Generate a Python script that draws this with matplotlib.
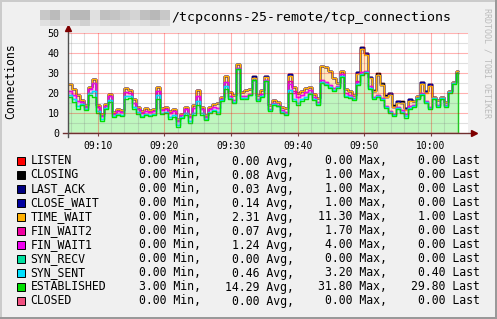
import numpy as np
import matplotlib
matplotlib.use('Agg')
import matplotlib.pyplot as plt
from matplotlib.patches import Rectangle

# Amostras (minutos depois das 09:00), uma a cada 36 s
t_start = 5.55
t_step = 0.6
t_end = 64.1

established = [18, 15.5, 12, 14, 11.5, 19, 18, 10, 6, 12,
               15.5, 8, 9, 8.5, 17, 17.5, 12, 9.5, 8, 9,
               8.5, 9, 17, 9.5, 10, 7, 8, 3, 7.5, 9,
               5, 9, 14, 9, 6.5, 10, 11, 9.5, 16, 22,
               17, 15, 31.8, 17, 17, 19, 26.5, 16, 18, 26,
               11, 14, 13.5, 10, 9, 20, 16, 14, 16, 17,
               19.5, 16.5, 14, 25, 24, 22.5, 21, 22.5, 28, 18,
               17.5, 16.5, 24, 29, 30, 22, 17, 18, 16.5, 12.5,
               10, 8.5, 12, 10, 7.5, 12, 13, 17, 19, 15,
               12, 17, 13, 17, 13, 20, 24.5, 29.8]
syn_sent = [1, 1.5, 1.5, 0.5, 0.5, 1, 3.2, 1, 1, 0.5,
            1, 0.5, 0.5, 0.5, 1.5, 1, 1, 1, 0.5, 0.5,
            0.5, 0.5, 2, 0.5, 0.5, 1, 1, 1, 0.5, 1,
            1, 1, 2, 1, 0.5, 0.5, 0.5, 1, 0.5, 1.5,
            0.5, 0.5, 0, 0.5, 0.5, 0, 0, 0.5, 0.5, 0,
            0.5, 0.5, 0, 0.5, 0.5, 1.5, 1, 1, 1, 1,
            0.5, 0.5, 0.5, 0.5, 0.5, 0.5, 0.5, 0.5, 0.5, 0.5,
            0.5, 0.5, 0.5, 0.7, 0.5, 0.5, 0.5, 0.5, 0.5, 0.5,
            0.5, 0.5, 0.5, 0.5, 1, 0.5, 0.5, 0.5, 0.5, 0.5,
            0.5, 0.5, 0.5, 0.5, 0.5, 0.5, 0.5, 0.4]
fin_wait1 = [2, 2, 2.5, 1, 1, 2, 4, 2, 1.5, 1,
             2, 1, 1.5, 1.5, 2, 1.5, 2, 1.5, 1.5, 1.5,
             1.5, 1.5, 2, 1.5, 1.5, 2, 2, 2, 1, 2,
             2, 2.5, 2.5, 2, 1, 1.5, 1.5, 2, 0.5, 2,
             1, 1, 0.5, 1, 1, 0.5, 0.2, 0.5, 1, 0.5,
             0.5, 0.5, 0.5, 1, 1, 3, 3, 3, 2, 2.5,
             1.5, 1, 1, 1, 1, 1, 1, 0.5, 1, 1.5,
             1, 0.5, 1, 1, 0.5, 1, 0.5, 0.5, 0.5, 0.5,
             0.5, 0.5, 0.5, 1, 1, 1, 0.5, 0, 0.5, 0.5,
             0.5, 0, 0.5, 0, 0.5, 0, 0, 0]
fin_wait2 = [0] * 55 + [1.7, 1] + [0] * 15 + [0.5] + [0] * 25
time_wait = [3.5, 3, 3, 1, 1, 1, 2, 1, 1, 1,
             1, 1, 1, 1, 2, 1.5, 2, 1, 1, 1.5,
             1, 1, 2, 1, 1, 1, 1, 1, 0.5, 1,
             1, 1.5, 3, 1, 1, 1, 1.5, 2.5, 1, 3,
             2, 2.5, 2, 2, 3, 2.5, 1, 2, 2, 1.5,
             2, 1.5, 1.5, 1.5, 2, 2.5, 2, 2, 2, 2,
             1.5, 1.5, 2, 7, 7.5, 7, 5, 1.5, 1.5, 2,
             2, 1.5, 3.5, 11.3, 8, 4, 3, 10, 6.5, 4.5,
             8, 3.5, 2, 3.5, 2, 2.5, 2, 1, 4.5, 4,
             10.5, 0.5, 2.5, 0.5, 1.5, 0.5, 0.5, 1]
close_wait = [0] * 49 + [0.5, 0, 0, 0, 0, 0, 1] + [0] * 16 + \
             [1, 0, 1, 0.5, 0, 0, 0, 0, 1, 0, 1, 0, 1, 1, 0, 0, 1, 1, 1] + [0] * 7
last_ack = [0] * 46 + [1] + [0] * 26 + [1] + [0] * 24
closing = [0] * 76 + [0.5, 1, 1, 1, 0, 1, 0, 1] + [0] * 14
zeros = [0] * 98

# Legenda (valores do rodape)
names = ['LISTEN', 'CLOSING', 'LAST_ACK', 'CLOSE_WAIT', 'TIME_WAIT', 'FIN_WAIT2',
         'FIN_WAIT1', 'SYN_RECV', 'SYN_SENT', 'ESTABLISHED', 'CLOSED']
colors = ['#FF0000', '#000000', '#000080', '#0000A0', '#FFB000', '#F000A0',
          '#F000F0', '#00E0A0', '#00E0FF', '#00E000', '#F05080']
mins = [0, 0, 0, 0, 0, 0, 0, 0, 0, 3.00, 0]
avgs = [0, 0.08, 0.03, 0.14, 2.31, 0.07, 1.24, 0.00, 0.46, 14.29, 0]
maxs = [0, 1.00, 1.00, 1.00, 11.30, 1.70, 4.00, 0.00, 3.20, 31.80, 0]
lasts = [0, 0, 0, 0, 1.00, 0, 0, 0, 0.40, 29.80, 0]

# Mosaico que esconde o nome do host
blur_top = ['#C8C8C8', '#BBBBBB', '#D8D8D8', '#B8B8B8', '#B8B8B8', '#E0E0E0', '#C0C0C0',
            '#C4C4C4', '#CCCCCC', '#D4D4D4', '#C0C0C0', '#B8B8B8', '#C8C8C8']
blur_bottom = ['#E0E0E0', '#D8D8D8', '#E0E0E0', '#DADADA', '#D0D0D0', '#E4E4E4', '#DCDCDC',
               '#D8D8D8', '#D8D8D8', '#E0E0E0', '#DCDCDC', '#D4D4D4', '#DCDCDC']

W, H = 497, 319
mono = 'DejaVu Sans Mono'
plt.rcParams['font.family'] = mono


def fx(x):
    return x / W


def fy(y):
    return 1 - y / H


fig = plt.figure(figsize=(W / 100, H / 100), dpi=100, facecolor='#F0F0F0')
ax = fig.add_axes([fx(67.7), fy(133), 400 / W, 100 / H])
ax.set_facecolor('white')

t = t_start + t_step * np.arange(len(established))
t = np.append(t, t_end)

# Ordem do empilhamento (de baixo para cima)
stack_names = ['CLOSED', 'ESTABLISHED', 'SYN_SENT', 'SYN_RECV', 'FIN_WAIT1', 'FIN_WAIT2',
               'TIME_WAIT', 'CLOSE_WAIT', 'LAST_ACK', 'CLOSING', 'LISTEN']
series = {'CLOSED': zeros, 'ESTABLISHED': established, 'SYN_SENT': syn_sent,
          'SYN_RECV': zeros, 'FIN_WAIT1': fin_wait1, 'FIN_WAIT2': fin_wait2,
          'TIME_WAIT': time_wait, 'CLOSE_WAIT': close_wait, 'LAST_ACK': last_ack,
          'CLOSING': closing, 'LISTEN': zeros}
cmap = dict(zip(names, colors))

cum = np.cumsum([np.array(series[n], dtype=float) for n in stack_names], axis=0)


def faded(c):
    rgb = np.array(matplotlib.colors.to_rgb(c))
    return tuple(rgb * 0.25 + 0.75)


# areas claras, do topo para baixo
for k in range(len(stack_names) - 1, -1, -1):
    y = np.append(cum[k], cum[k][-1])
    ax.fill_between(t, 0, y, step='post', color=faded(cmap[stack_names[k]]), lw=0, zorder=1)

# linhas
for k in range(len(stack_names) - 1, -1, -1):
    y = np.append(cum[k], cum[k][-1])
    ax.step(t, y, where='post', color=cmap[stack_names[k]], lw=1.0, zorder=2)
    if stack_names[k] == 'ESTABLISHED':
        ax.plot([t_end, t_end], [0, y[-1]], color=cmap['ESTABLISHED'], lw=1.0, zorder=2)

ax.set_xlim(5.5, 65.5)
ax.set_ylim(0, 50)

# grade
for m in np.arange(6, 66, 2):
    if m % 10:
        ax.axvline(m, color='#808080', alpha=0.25, lw=0.8, zorder=3)
for v in np.arange(5, 50, 10):
    ax.axhline(v, color='#808080', alpha=0.25, lw=0.8, zorder=3)
for m in range(10, 70, 10):
    ax.axvline(m, color='#FF0000', alpha=0.3, lw=0.8, zorder=3)
for v in range(10, 51, 10):
    ax.axhline(v, color='#FF0000', alpha=0.3, lw=0.8, zorder=3)

for s in ax.spines.values():
    s.set_visible(False)

xt = list(range(10, 61, 10))
ax.set_xticks(xt)
ax.set_xticklabels(['09:10', '09:20', '09:30', '09:40', '09:50', '10:00'], fontsize=7)
ax.set_yticks(range(0, 51, 10))
ax.set_yticklabels([str(v) for v in range(0, 51, 10)], fontsize=7.2)
ax.tick_params(axis='x', length=2, pad=3.5, color='#7F3F3F')
ax.tick_params(axis='y', length=0, pad=6)

# eixos com setas
ax.plot([4.8, 66.3], [0, 0], color='#6F3030', lw=1, clip_on=False, zorder=5)
ax.plot([66.5], [0], marker='>', color='#7F0000', ms=4, clip_on=False, zorder=5)
ax.plot([5.5, 5.5], [-2, 52.2], color='#505050', lw=1, clip_on=False, zorder=5)
ax.plot([5.5], [52.5], marker='^', color='#7F0000', ms=4, clip_on=False, zorder=5)

ax.set_ylabel('Connections', fontsize=8.3, labelpad=8)
ax.yaxis.set_label_coords(fx(17) / (400 / W) - fx(67.7) / (400 / W), 0.52)

# titulo
for i, c in enumerate(blur_top):
    fig.add_artist(Rectangle((fx(40 + 10 * i), fy(20)), 10 / W, 10 / H,
                             transform=fig.transFigure, color=c, lw=0))
for i, c in enumerate(blur_bottom):
    fig.add_artist(Rectangle((fx(40 + 10 * i), fy(26)), 10 / W, 6 / H,
                             transform=fig.transFigure, color=c, lw=0))
fig.text(fx(171), fy(18), '/tcpconns-25-remote/tcp_connections', fontsize=9.5,
         ha='left', va='center', color='#000000')

fig.text(fx(486.5), fy(8), 'RRDTOOL / TOBI OETIKER', fontsize=6, rotation=270,
         ha='center', va='top', color='#BBBBBB')

# legenda
for i, n in enumerate(names):
    y = 161 + 14 * i
    fig.add_artist(Rectangle((fx(16.5), fy(y + 4)), 8 / W, 8 / H, transform=fig.transFigure,
                             facecolor=colors[i], edgecolor='black', lw=0.7))
    fig.text(fx(30.5), fy(y), n, fontsize=8.3, ha='left', va='center')
    fig.text(fx(200.6), fy(y), f'{mins[i]:.2f} Min,', fontsize=8.3, ha='right', va='center')
    fig.text(fx(293.6), fy(y), f'{avgs[i]:.2f} Avg,', fontsize=8.3, ha='right', va='center')
    fig.text(fx(386.9), fy(y), f'{maxs[i]:.2f} Max,', fontsize=8.3, ha='right', va='center')
    fig.text(fx(479.6), fy(y), f'{lasts[i]:.2f} Last', fontsize=8.3, ha='right', va='center')

# moldura
fig.add_artist(Rectangle((0, fy(2)), 1, 2 / H, transform=fig.transFigure, color='#CBCBCB', lw=0))
fig.add_artist(Rectangle((0, 0), 2 / W, 1, transform=fig.transFigure, color='#CBCBCB', lw=0))
fig.add_artist(Rectangle((fx(495), 0), 2 / W, 1, transform=fig.transFigure, color='#999999', lw=0))
fig.add_artist(Rectangle((0, 0), 1, 2 / H, transform=fig.transFigure, color='#999999', lw=0))

fig.savefig('out.png', dpi=100, facecolor=fig.get_facecolor())
